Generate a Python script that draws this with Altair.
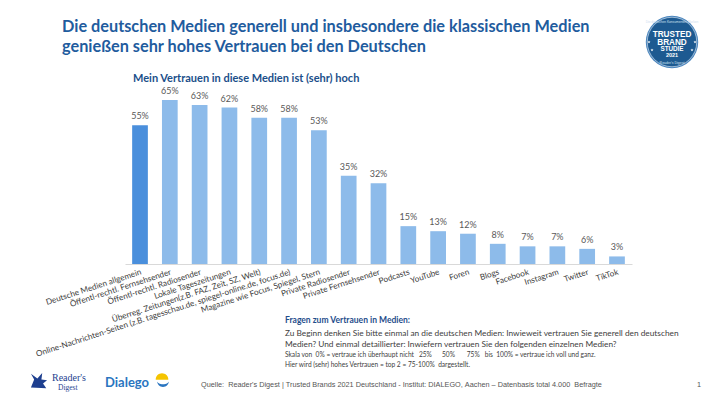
import altair as alt
import pandas as pd

# ---------------- data ----------------
categories = [
    "Deutsche Medien allgemein",
    "Öffentl-rechtl. Fernsehsender",
    "Öffentl-rechtl. Radiosender",
    "Lokale Tageszeitungen",
    "Überreg. Zeitungen(z.B. FAZ, Zeit, SZ, Welt)",
    "Online-Nachrichten-Seiten (z.B. tagesschau.de, spiegel-online.de, focus.de)",
    "Magazine wie Focus, Spiegel, Stern",
    "Private Radiosender",
    "Private Fernsehsender",
    "Podcasts",
    "YouTube",
    "Foren",
    "Blogs",
    "Facebook",
    "Instagram",
    "Twitter",
    "TikTok",
]
values = [55, 65, 63, 62, 58, 58, 53, 35, 32, 15, 13, 12, 8, 7, 7, 6, 3]
groups = ["gesamt"] + ["einzeln"] * 16

NB = "\u00a0"
title_lines = [
    "Die deutschen Medien generell und insbesondere die klassischen Medien",
    "genießen sehr hohes Vertrauen bei den Deutschen",
]
subtitle = "Mein Vertrauen in diese Medien ist (sehr) hoch"
note_head = "Fragen zum Vertrauen in Medien:"
note_lines = [
    "Zu Beginn denken Sie bitte einmal an die deutschen Medien: Inwieweit vertrauen Sie generell den deutschen",
    "Medien? Und einmal detaillierter: Inwiefern vertrauen Sie den folgenden einzelnen Medien?",
]
note_small = [
    "Skala von  0% = vertraue ich überhaupt nicht   25%      50%       75%   bis  100% = vertraue ich voll und ganz.".replace(" ", NB),
    "Hier wird (sehr) hohes Vertrauen = top 2 = 75-100%  dargestellt.".replace(" ", NB),
]
source = "Quelle:  Reader's Digest | Trusted Brands 2021 Deutschland - Institut: DIALEGO, Aachen – Datenbasis total 4.000  Befragte".replace(" ", NB)
page_no = "1"
badge_lines = ["TRUSTED", "BRAND", "STUDIE", "2021"]

df = pd.DataFrame({"Medium": categories, "Wert": values, "Gruppe": groups})
df["Label"] = df["Wert"].astype(str) + "%"

# plot-area origin on the page (page margin 8 px)
OX, OY = 125, 100
W, H = 507, 164
TOTAL_W, TOTAL_H = 694, 386

x = alt.X(
    "Medium:N",
    sort=None,
    scale=alt.Scale(paddingInner=0.473, paddingOuter=0.24),
    axis=alt.Axis(
        title=None, labelAngle=-18, labelAlign="right", labelBaseline="top",
        labelFont="Lato", labelFontSize=8.2, labelColor="#404040", labelPadding=4,
        ticks=False, domainColor="#d9d9d9", domainWidth=1, labelLimit=500,
        labelOverlap=False, grid=False,
    ),
)
y = alt.Y("Wert:Q", scale=alt.Scale(domain=[0, 65], nice=False), axis=None)

bars = alt.Chart(df).mark_bar().encode(
    x=x, y=y,
    color=alt.Color("Gruppe:N",
                    scale=alt.Scale(domain=["gesamt", "einzeln"], range=["#4a8fdc", "#8dbbea"]),
                    legend=None),
)
vlabels = alt.Chart(df).mark_text(
    baseline="bottom", dy=-4, font="Lato", fontSize=9, color="#595959"
).encode(x=x, y=y, text="Label:N")


def txt(text, px, py, size, color="#404040", weight="normal", font="Lato", align="left"):
    return alt.Chart(pd.DataFrame({"t": [text]})).mark_text(
        align=align, baseline="alphabetic", font=font, fontSize=size,
        fontWeight=weight, color=color,
    ).encode(x=alt.value(px - OX), y=alt.value(py - OY), text="t:N")


def dot(px, py, size, color, shape="circle", stroke=None, sw=0):
    kw = dict(shape=shape, size=size, filled=True, color=color, opacity=1)
    if stroke:
        kw.update(stroke=stroke, strokeWidth=sw)
    return alt.Chart(pd.DataFrame({"a": [0]})).mark_point(**kw).encode(
        x=alt.value(px - OX), y=alt.value(py - OY))


layers = [bars, vlabels]
layers.append(txt(title_lines[0], 62, 32, 16.3, "#1f5c9e", "bold"))
layers.append(txt(title_lines[1], 62, 52, 16.3, "#1f5c9e", "bold"))
layers.append(txt(subtitle, 133, 82, 11, "#1b4f8a", "bold"))
layers.append(txt(note_head, 285, 323, 8.5, "#1f4e8c", "bold"))
layers.append(txt(note_lines[0], 285, 336, 8.3, "#404040"))
layers.append(txt(note_lines[1], 285, 347, 8.3, "#404040"))
layers.append(txt(note_small[0], 285, 357, 6.6, "#404040"))
layers.append(txt(note_small[1], 285, 366.5, 6.6, "#404040"))
layers.append(txt(source, 201, 387, 7.3, "#555555", font="Liberation Sans"))
layers.append(txt(page_no, 697, 387, 7.3, "#555555", font="Liberation Sans"))

# badge
layers.append(dot(672, 42, 2750, "#4a85bd"))
layers.append(dot(672, 42, 2450, "#1d5a91", stroke="#dfe9f3", sw=0.6))
layers.append(txt(badge_lines[0], 672, 36.5, 8.2, "#ffffff", "bold", "Liberation Sans", "center"))
layers.append(txt(badge_lines[1], 672, 44.5, 8.2, "#ffffff", "bold", "Liberation Sans", "center"))
layers.append(txt(badge_lines[2], 672, 51, 6.3, "#ffffff", "bold", "Liberation Sans", "center"))
layers.append(txt(badge_lines[3], 672, 57, 5.5, "#ffffff", "bold", "Liberation Sans", "center"))
layers.append(txt("Reader's Digest", 672, 64, 3.5, "#cfe0f0", "normal", "Liberation Sans", "center"))
layers.append(txt("Die deutschen Konsumenten-Marken", 672, 23, 3.2, "#cfe0f0", "normal", "Liberation Sans", "center"))
star = "M0,-1L0.235,-0.324L0.951,-0.309L0.38,0.124L0.588,0.809L0,0.4L-0.588,0.809L-0.38,0.124L-0.951,-0.309L-0.235,-0.324Z"
for sx, sy in [(649, 42), (695, 42), (652, 50), (692, 50)]:
    layers.append(dot(sx, sy, 10, "#ffffff", shape=star))

# Reader's Digest logo
wing = "M-1,0.8L-0.6,-0.2L-1,-0.9L-0.2,-0.3L0.4,-1L0.3,-0.2L1,-0.1L0.5,0.3L0.9,0.9Z"
layers.append(dot(39, 381, 260, "#1e3f8f", shape=wing))
layers.append(txt("Reader's", 52, 381, 10, "#1e3f8f", "normal", "Liberation Serif"))
layers.append(txt("Digest", 58, 390, 7.5, "#1e3f8f", "normal", "Liberation Serif"))

# Dialego logo
layers.append(txt("Dialego", 105, 387, 13, "#2a75c0", "bold", "Lato"))
layers.append(dot(162, 379, 160, "#f5c400", shape="M-1,0.1A1,1 0 0 1 1,0.1Z"))
layers.append(dot(163, 381, 140, "#2a75c0", shape="M-1,0A1,0.55 0 0 0 1,0A1,1 0 0 1 -1,0Z"))

chart = alt.layer(*layers).properties(
    width=W, height=H,
    padding={"left": OX - 8, "top": OY - 8, "right": TOTAL_W - (OX - 8) - W,
             "bottom": TOTAL_H - (OY - 8) - H},
    autosize=alt.AutoSizeParams(type="none"),
    background="#ffffff",
).configure_view(stroke=None)

chart.save("out.html", embed_options={"renderer": "svg", "actions": False})
